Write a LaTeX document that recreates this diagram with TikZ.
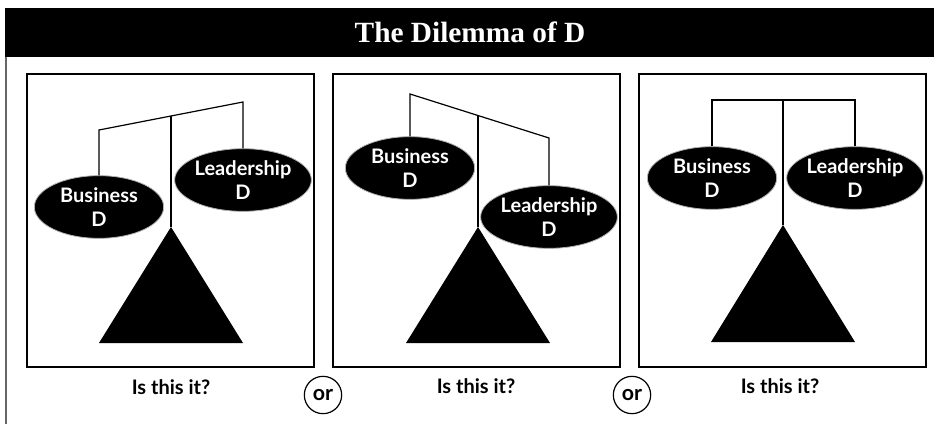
\documentclass[tikz,border=0pt]{standalone}
\usepackage{fontspec}
\setmainfont{Liberation Serif}
\newfontfamily\panelfont{Lato}
\usetikzlibrary{shapes.geometric,positioning,calc}

\tikzset{
  weight/.style={ellipse, fill=black, draw=gray!60, line width=0.6pt, minimum width=97pt, minimum height=47pt,
    inner sep=0pt, align=center, text=white, font=\panelfont\bfseries\fontsize{15}{18}\selectfont},
  panel/.style={draw=black, line width=1.1pt},
  beam/.style={draw=black, line width=0.9pt},
  stand/.style={fill=black},
  caption/.style={font=\panelfont\bfseries\fontsize{15}{18}\selectfont},
  orbubble/.style={circle, draw=black, line width=0.9pt, minimum size=28pt, inner sep=0pt,
    font=\panelfont\bfseries\fontsize{16}{18}\selectfont}
}

\begin{document}
\begin{tikzpicture}[x=0.75pt, y=-0.75pt]
  \useasboundingbox (0,0) rectangle (934,424);

  % title bar and left rule
  \fill[black] (5,8) rectangle (934,57);
  \node[text=white, font=\bfseries\fontsize{22}{26}\selectfont] (title) at (470,32) {The Dilemma of D};
  \draw[gray!80!black, line width=1.4pt] (6,57) -- (6,424);

  % panel 1: business down
  \draw[panel] (27,74) rectangle (314,367);
  \coordinate (bl1) at (99,130);
  \coordinate (br1) at (243,102);
  \coordinate (piv1) at (171,116);
  \coordinate (tip1) at (171,227);
  \node[weight] (bus1) at (99,207) {Business\\D};
  \node[weight] (lead1) at (243,180) {Leadership\\D};
  \draw[beam] (bus1.north) -- (bl1) -- (br1) -- (lead1.north);
  \draw[beam] (piv1) -- (tip1);
  \fill[stand] (tip1) -- ($(tip1)+(-72,116)$) -- ($(tip1)+(72,116)$) -- cycle;
  \node[caption] (cap1) at (171,387) {Is this it?};

  % panel 2: leadership down
  \draw[panel] (333,74) rectangle (620,367);
  \coordinate (bl2) at (410,94);
  \coordinate (br2) at (549,138);
  \coordinate (piv2) at (478,115.5);
  \coordinate (tip2) at (478,227);
  \node[weight] (bus2) at (410,168) {Business\\D};
  \node[weight] (lead2) at (549,217) {Leadership\\D};
  \draw[beam] (bus2.north) -- (bl2) -- (br2) -- (lead2.north);
  \draw[beam] (piv2) -- (tip2);
  \fill[stand] (tip2) -- ($(tip2)+(-72,116)$) -- ($(tip2)+(72,116)$) -- cycle;
  \node[caption] (cap2) at (476,386) {Is this it?};

  % panel 3: balanced
  \draw[panel] (639,74) rectangle (926,367);
  \coordinate (bl3) at (712,100);
  \coordinate (br3) at (855,100);
  \coordinate (piv3) at (783,100);
  \coordinate (tip3) at (783,225);
  \node[weight] (bus3) at (712,178) {Business\\D};
  \node[weight] (lead3) at (855,178) {Leadership\\D};
  \draw[beam] (bus3.north) -- (bl3) -- (br3) -- (lead3.north);
  \draw[beam] (piv3) -- (tip3);
  \fill[stand] (tip3) -- ($(tip3)+(-72,117)$) -- ($(tip3)+(72,117)$) -- cycle;
  \node[caption] (cap3) at (780,386) {Is this it?};

  % or bubbles
  \node[orbubble] (or1) at (323,395) {or};
  \node[orbubble] (or2) at (632,395) {or};
\end{tikzpicture}
\end{document}
